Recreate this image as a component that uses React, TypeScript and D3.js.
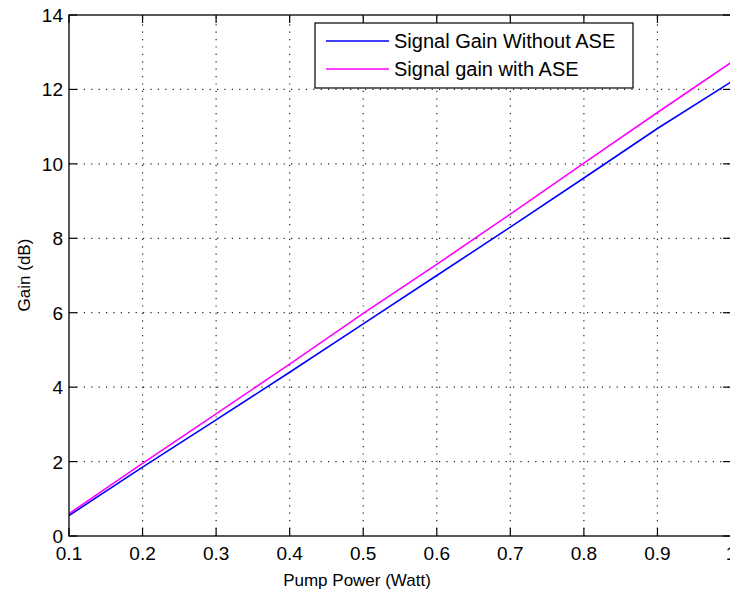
import React from "react";
import * as d3 from "d3";

const xValues = [0.1, 0.2, 0.3, 0.4, 0.5, 0.6, 0.7, 0.8, 0.9, 1.0];
const gainWithoutASE = [0.55, 1.85, 3.12, 4.4, 5.7, 7.0, 8.3, 9.62, 10.95, 12.2];
const gainWithASE = [0.6, 1.95, 3.28, 4.62, 5.98, 7.3, 8.65, 10.02, 11.38, 12.72];
const xTicks = [0.1, 0.2, 0.3, 0.4, 0.5, 0.6, 0.7, 0.8, 0.9, 1.0];
const yTicks = [0, 2, 4, 6, 8, 10, 12, 14];
const seriesNames = ["Signal Gain Without ASE", "Signal gain with ASE"];
const seriesColors = ["#0000ff", "#ff00ff"];

const W = 730, H = 594;
const L = 69, R = 731, T = 15, B = 536;
const font = "Arial, 'Liberation Sans', Helvetica, sans-serif";

export default function App() {
  const x = d3.scaleLinear().domain([0.1, 1.0]).range([L, R]);
  const y = d3.scaleLinear().domain([0, 14]).range([B, T]);
  const line = d3.line<number>().x((_, i) => x(xValues[i])).y((d) => y(d));
  const series = [gainWithoutASE, gainWithASE];
  const fmtX = (v: number) => (v === 1 ? "1" : d3.format(".1f")(v));
  return (
    <svg width={W} height={H} style={{ position: "absolute", left: 0, top: 0, background: "#fff" }} fontFamily={font}>
      <defs>
        <clipPath id="plot"><rect x={L} y={T} width={R - L} height={B - T} /></clipPath>
      </defs>
      <rect x={0} y={0} width={W} height={H} fill="#fff" />
      {/* grid */}
      {xTicks.slice(1, -1).map((t) => (
        <line key={"gx" + t} x1={x(t)} x2={x(t)} y1={B} y2={T} stroke="#222" strokeWidth={1.2} strokeDasharray="1.2,6.2" />
      ))}
      {yTicks.slice(1, -1).map((t) => (
        <line key={"gy" + t} x1={L} x2={R} y1={y(t)} y2={y(t)} stroke="#222" strokeWidth={1.2} strokeDasharray="1.2,6.2" />
      ))}
      {/* series */}
      <g clipPath="url(#plot)">
        {series.map((s, i) => (
          <path key={i} d={line(s) || ""} fill="none" stroke={seriesColors[i]} strokeWidth={1.6} />
        ))}
      </g>
      {/* frame */}
      <rect x={L} y={T} width={R - L} height={B - T} fill="none" stroke="#000" strokeWidth={1.3} />
      {/* ticks */}
      {xTicks.map((t) => (
        <g key={"tx" + t}>
          <line x1={x(t)} x2={x(t)} y1={B} y2={B - 8} stroke="#000" strokeWidth={1.2} />
          <line x1={x(t)} x2={x(t)} y1={T} y2={T + 8} stroke="#000" strokeWidth={1.2} />
          <text x={x(t)} y={B + 24} textAnchor="middle" fontSize={19} fill="#000">{fmtX(t)}</text>
        </g>
      ))}
      {yTicks.map((t) => (
        <g key={"ty" + t}>
          <line x1={L} x2={L + 8} y1={y(t)} y2={y(t)} stroke="#000" strokeWidth={1.2} />
          <line x1={R} x2={R - 8} y1={y(t)} y2={y(t)} stroke="#000" strokeWidth={1.2} />
          <text x={63} y={y(t) + 7} textAnchor="end" fontSize={19} fill="#000">{t}</text>
        </g>
      ))}
      {/* axis labels */}
      <text x={357} y={586} textAnchor="middle" fontSize={17} fill="#000">Pump Power (Watt)</text>
      <text transform={`translate(30,275) rotate(-90)`} textAnchor="middle" fontSize={17} fill="#000">Gain (dB)</text>
      {/* legend */}
      <rect x={315} y={23} width={318} height={65} fill="#fff" stroke="#000" strokeWidth={1.2} />
      {seriesNames.map((n, i) => (
        <g key={n}>
          <line x1={326} x2={389} y1={41 + i * 28} y2={41 + i * 28} stroke={seriesColors[i]} strokeWidth={1.6} />
          <text x={394} y={48 + i * 28} fontSize={20} fill="#000">{n}</text>
        </g>
      ))}
    </svg>
  );
}
